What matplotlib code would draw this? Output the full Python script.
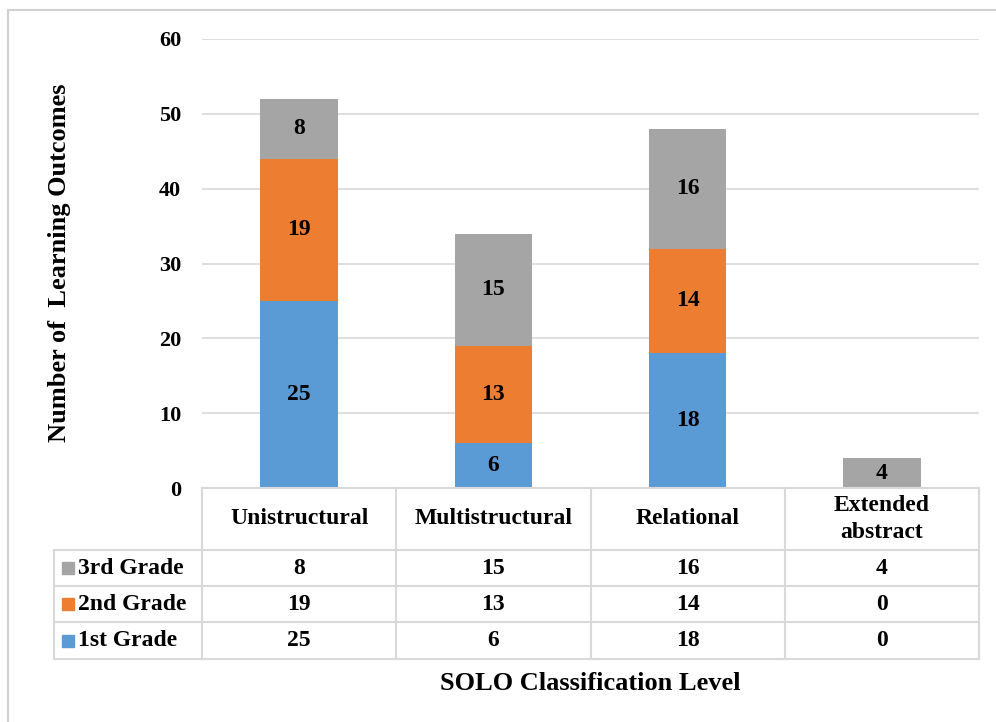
import matplotlib.pyplot as plt
import numpy as np

plt.rcParams['font.family'] = ['Liberation Serif', 'DejaVu Serif']
plt.rcParams['font.weight'] = 'bold'

categories = ['Unistructural', 'Multistructural', 'Relational', 'Extended\nabstract']
grades = ['1st Grade', '2nd Grade', '3rd Grade']
first = [25, 6, 18, 0]
second = [19, 13, 14, 0]
third = [8, 15, 16, 4]
colors = ['#5B9BD5', '#ED7D31', '#A5A5A5']
series = [first, second, third]

W, H = 996, 722
fig = plt.figure(figsize=(W / 100, H / 100), dpi=100)

# pixel helper for layout
def fx(px):
    return px / W

def fy(py):
    return 1 - py / H

x0, x1 = 202, 979
ytop, ybot = 39, 488
ax = fig.add_axes([fx(x0), fy(ybot), fx(x1) - fx(x0), fy(ytop) - fy(ybot)])

x = np.arange(len(categories))
bottom = np.zeros(len(categories))
for vals, c in zip(series, colors):
    vals = np.array(vals)
    bars = ax.bar(x, vals, 0.4, bottom=bottom, color=c, zorder=3)
    for b, v, bt in zip(bars, vals, bottom):
        if v > 0:
            ax.text(b.get_x() + b.get_width() / 2, bt + v / 2, str(v),
                    ha='center', va='center', fontsize=17, fontweight='bold', zorder=4)
    bottom += vals

ax.set_xlim(-0.5, len(categories) - 0.5)
ax.set_ylim(0, 60)
ax.set_yticks(range(0, 61, 10))
ax.tick_params(axis='y', length=0, pad=15, labelsize=16)
ax.set_xticks([])
ax.grid(axis='y', color='#D9D9D9', lw=1.2, zorder=0)
for s in ax.spines.values():
    s.set_visible(False)
for lbl in ax.get_yticklabels():
    lbl.set_fontweight('bold')

# table + frame on an overlay axes in pixel units
ov2 = fig.add_axes([0, 0, 1, 1])
ov2.set_xlim(0, W)
ov2.set_ylim(H, 0)
ov2.axis('off')

lc = '#D9D9D9'
ov2.plot([8, 996], [10, 10], color='#D0D0D0', lw=1.5)
ov2.plot([8, 8], [10, 722], color='#D0D0D0', lw=1.5)

col_edges = np.linspace(x0, x1, len(categories) + 1)
row_y = [550, 586, 622, 659]
ov2.plot([x0, x1], [ybot, ybot], color=lc, lw=1.5)
for y in row_y:
    ov2.plot([54, x1], [y, y], color=lc, lw=1.5)
for cx in col_edges:
    ov2.plot([cx, cx], [ybot, row_y[-1]], color=lc, lw=1.5)
ov2.plot([54, 54], [row_y[0], row_y[-1]], color=lc, lw=1.5)

for i, cat in enumerate(categories):
    cx = (col_edges[i] + col_edges[i + 1]) / 2
    ov2.text(cx, (ybot + row_y[0]) / 2, cat, ha='center', va='center',
             fontsize=17, fontweight='bold', linespacing=1.35)

for r, gi in enumerate([2, 1, 0]):
    yc = (row_y[r] + row_y[r + 1]) / 2
    ov2.add_patch(plt.Rectangle((62, yc - 6), 12, 12, color=colors[gi]))
    ov2.text(78, yc, grades[gi], ha='left', va='center',
             fontsize=17, fontweight='bold')
    for i, v in enumerate(series[gi]):
        cx = (col_edges[i] + col_edges[i + 1]) / 2
        ov2.text(cx, yc, str(v), ha='center', va='center', fontsize=17, fontweight='bold')

ov2.text(590, 683, 'SOLO Classification Level', ha='center', va='center',
         fontsize=19, fontweight='bold')
ov2.text(60, 263, 'Number of  Learning Outcomes', ha='center', va='center',
         rotation=90, fontsize=19, fontweight='bold')

fig.savefig('out.png', dpi=100)
